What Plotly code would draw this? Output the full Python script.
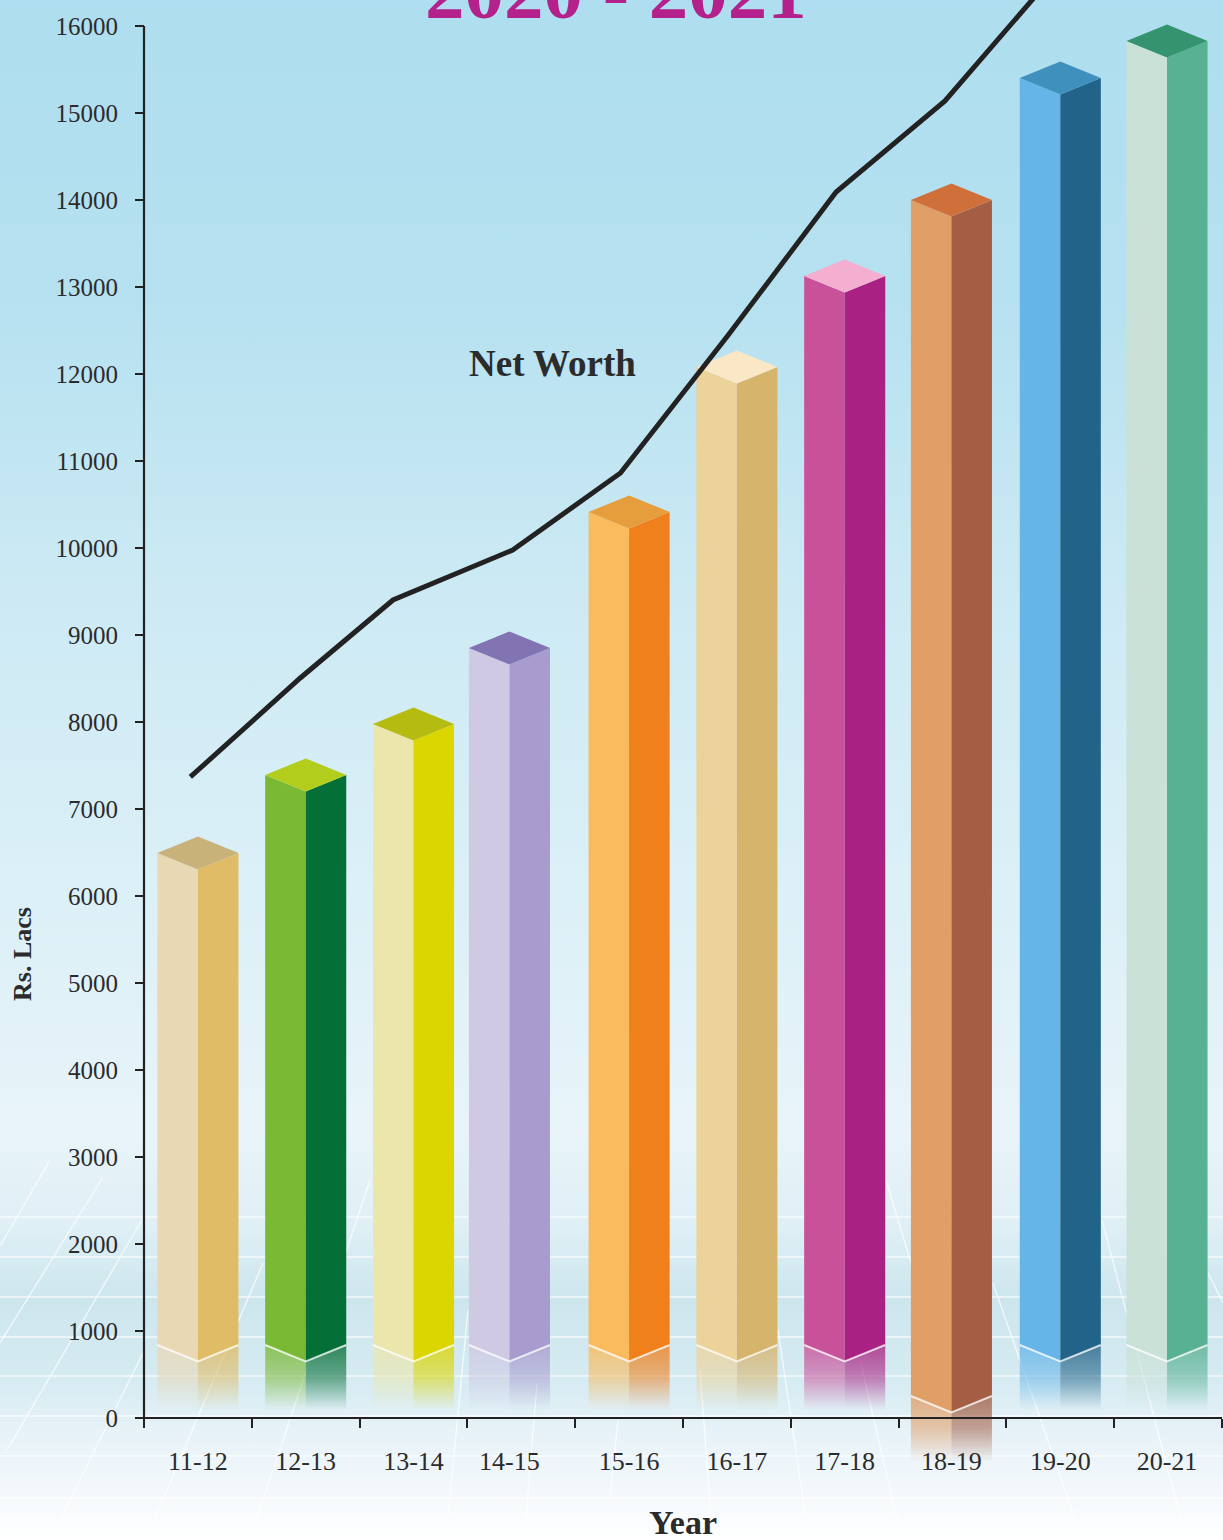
import plotly.graph_objects as go

W, H = 1223, 1540
AX_L, AX_R, AX_B = 144, 1222, 1418
PX_PER_CAT = (AX_R - AX_L) / 10
PX_PER_VAL = 0.087

# ---- data ----
categories = ["11-12", "12-13", "13-14", "14-15", "15-16", "16-17", "17-18", "18-19", "19-20", "20-21"]
bar_positions = [0.50, 1.50, 2.50, 3.39, 4.50, 5.50, 6.50, 7.49, 8.50, 9.49]
bar_values = [6494, 7391, 7977, 8851, 10414, 12080, 13126, 14000, 15402, 15828]
bar_bases = [839, 839, 839, 839, 839, 839, 839, 253, 839, 839]
reflection_ends = [92, 92, 92, 92, 92, 92, 92, -506, 92, 92]
net_worth_x = [0.43, 1.45, 2.31, 3.42, 4.42, 5.42, 6.42, 7.43, 8.43]
net_worth = [7368, 8506, 9402, 9977, 10862, 12448, 14092, 15138, 16575]
y_ticks = list(range(0, 17000, 1000))

# ---- styles ----
left_colors = ["#e9d8b4", "#7ab934", "#ebe6ab", "#cfc9e4", "#f9bb5c", "#ecd399", "#c9519a", "#e19f68", "#66b5e8", "#c9e1d6"]
right_colors = ["#dfbc65", "#046f37", "#dcd600", "#a89cce", "#f0801c", "#d7b46b", "#a92283", "#a45e44", "#226489", "#58b193"]
top_colors = ["#c8b27a", "#b2cd1c", "#b5bb10", "#8274b3", "#e69e3d", "#f9e7c5", "#f4afd0", "#cf703a", "#3f90bd", "#35946f"]
HALF = 0.376       # half bar width, category units
DEPTH = 190        # isometric drop of the front corner, value units
bg_stops = [(0, "#aedeef"), (300, "#b6e1f0"), (600, "#cdeaf4"), (900, "#dcf0f7"), (1130, "#e8f4fa"),
            (1220, "#e0f0f6"), (1300, "#cde6ee"), (1380, "#d6ebf2"), (1430, "#e6f2f8"), (1490, "#f3f8fb"), (1540, "#ffffff")]
floor_rows = [1217, 1257, 1297, 1337, 1376, 1416, 1456, 1498]
floor_rays = [(50, 1160, 0, 1246), (103, 1177, 0, 1343), (142, 1220, 7, 1450), (143, 1353, 60, 1520),
              (263, 1263, 150, 1530), (370, 1180, 253, 1530), (468, 1310, 447, 1527), (537, 1383, 525, 1530),
              (618, 1420, 610, 1497), (700, 1370, 712, 1530), (778, 1330, 805, 1513), (860, 1360, 899, 1527),
              (886, 1180, 911, 1263), (993, 1283, 1079, 1530), (1102, 1220, 1183, 1527), (1208, 1273, 1223, 1303)]


def hex_rgba(c, a):
    return f"rgba({int(c[1:3],16)},{int(c[3:5],16)},{int(c[5:7],16)},{a})"


fig = go.Figure()

# page background on a hidden full-page pixel axis
fig.add_trace(go.Scatter(
    x=[0, W, W, 0, 0], y=[0, 0, H, H, 0], mode="lines", fill="toself", line=dict(width=0),
    fillgradient=dict(type="vertical", start=0, stop=H,
                      colorscale=[[p / H, c] for p, c in bg_stops]),
    xaxis="x", yaxis="y", hoverinfo="skip", showlegend=False))
hx, hy = [], []
for r in floor_rows:
    hx += [0, W, None]
    hy += [r, r, None]
fig.add_trace(go.Scatter(x=hx, y=hy, mode="lines", line=dict(color="rgba(255,255,255,0.55)", width=2),
                         xaxis="x", yaxis="y", hoverinfo="skip", showlegend=False))
rx, ry = [], []
for x0, y0, x1, y1 in floor_rays:
    rx += [x0, x1, None]
    ry += [y0, y1, None]
fig.add_trace(go.Scatter(x=rx, y=ry, mode="lines", line=dict(color="rgba(255,255,255,0.75)", width=1.3),
                         xaxis="x", yaxis="y", hoverinfo="skip", showlegend=False))


def poly(xs, ys, color):
    fig.add_trace(go.Scatter(x=xs + xs[:1], y=ys + ys[:1], mode="lines", fill="toself", fillcolor=color,
                             line=dict(width=0), xaxis="x2", yaxis="y2",
                             hoverinfo="skip", showlegend=False))


def reflection(xs, ys, color, base, end):
    fig.add_trace(go.Scatter(
        x=xs + xs[:1], y=ys + ys[:1], mode="lines", fill="toself", line=dict(width=0),
        fillgradient=dict(type="vertical", start=base, stop=end,
                          colorscale=[[0, hex_rgba(color, 0.8)], [0.5, hex_rgba(color, 0.55)], [1, hex_rgba(color, 0)]]),
        xaxis="x2", yaxis="y2", hoverinfo="skip", showlegend=False))


for i, cat in enumerate(categories):
    c, v, b, e = bar_positions[i], bar_values[i], bar_bases[i], reflection_ends[i]
    l, r = c - HALF, c + HALF
    reflection([l, c, c, l], [b, b - DEPTH, e, e], left_colors[i], b, e)
    reflection([c, r, r, c], [b - DEPTH, b, e, e], right_colors[i], b, e)
    poly([l, c, c, l], [b, b - DEPTH, v - DEPTH, v], left_colors[i])
    poly([c, r, r, c], [b - DEPTH, b, v, v - DEPTH], right_colors[i])
    poly([l, c, r, c], [v, v - DEPTH, v, v + DEPTH], top_colors[i])
    fig.add_trace(go.Scatter(x=[l, c, r], y=[b, b - DEPTH, b], mode="lines",
                             line=dict(color="rgba(255,255,255,0.75)", width=2),
                             xaxis="x2", yaxis="y2", hoverinfo="skip", showlegend=False))

fig.add_trace(go.Scatter(x=net_worth_x, y=net_worth, mode="lines", name="Net Worth",
                         line=dict(color="#222222", width=5), xaxis="x2", yaxis="y2", showlegend=False))
# axis lines stop at the ends of their scales, so they are drawn on the same axes
fig.add_trace(go.Scatter(x=[0, 0, 10], y=[y_ticks[-1], 0, 0], mode="lines", line=dict(color="#222222", width=2.2),
                         xaxis="x2", yaxis="y2", hoverinfo="skip", showlegend=False))

TXT = "#2b2b2b"
SERIF = "Liberation Serif"
fig.update_layout(
    width=W, height=H, margin=dict(l=0, r=0, t=0, b=0), showlegend=False,
    paper_bgcolor="#ffffff", plot_bgcolor="rgba(0,0,0,0)",
    font=dict(family=SERIF, color=TXT),
    xaxis=dict(domain=[0, 1], range=[0, W], visible=False, fixedrange=True),
    yaxis=dict(domain=[0, 1], range=[H, 0], visible=False, fixedrange=True),
    xaxis2=dict(domain=[0, 1], range=[-AX_L / PX_PER_CAT, (W - AX_L) / PX_PER_CAT],
                anchor="free", position=1 - AX_B / H, showgrid=False, zeroline=False, showline=False,
                tickmode="array", tickvals=bar_positions, ticktext=categories,
                ticks="outside", ticklen=0, ticklabelstandoff=20,
                tickfont=dict(size=26, family=SERIF, color=TXT),
                minor=dict(tickmode="array", tickvals=list(range(11)), ticks="outside", ticklen=9,
                           tickwidth=2, tickcolor="#222222")),
    yaxis2=dict(domain=[0, 1], range=[(AX_B - H) / PX_PER_VAL, AX_B / PX_PER_VAL],
                anchor="free", position=AX_L / W, showgrid=False, zeroline=False, showline=False,
                tickmode="array", tickvals=y_ticks, ticktext=[str(t) for t in y_ticks],
                ticks="outside", ticklen=9, tickwidth=2, tickcolor="#222222", ticklabelstandoff=12,
                tickfont=dict(size=25, family=SERIF, color=TXT)),
    annotations=[
        dict(text="<b>2020 - 2021</b>", xref="paper", yref="paper", x=616 / W, y=1 - 37 / H, xanchor="center",
             yanchor="bottom", showarrow=False, font=dict(size=79, family=SERIF, color="#b5218c")),
        dict(text="<b>Net Worth</b>", xref="paper", yref="paper", x=552 / W, y=1 - 364 / H, xanchor="center",
             yanchor="middle", showarrow=False, font=dict(size=37, family=SERIF, color=TXT)),
        dict(text="<b>Year</b>", xref="paper", yref="paper", x=683 / W, y=1 - 1522 / H, xanchor="center",
             yanchor="middle", showarrow=False, font=dict(size=34, family=SERIF, color=TXT)),
        dict(text="<b>Rs. Lacs</b>", xref="paper", yref="paper", x=22 / W, y=1 - 954 / H, xanchor="center",
             yanchor="middle", textangle=-90, showarrow=False, font=dict(size=26, family=SERIF, color=TXT)),
    ],
)

fig.write_html("out.html", config={"displayModeBar": False},
               post_script="document.body.style.margin='0';document.body.style.padding='0';"
               "document.documentElement.style.margin='0';"
               "var gd=document.getElementById('{plot_id}');gd.parentElement.style.margin='0';"
               "gd.parentElement.style.position='absolute';gd.parentElement.style.top='0';gd.parentElement.style.left='0';")
